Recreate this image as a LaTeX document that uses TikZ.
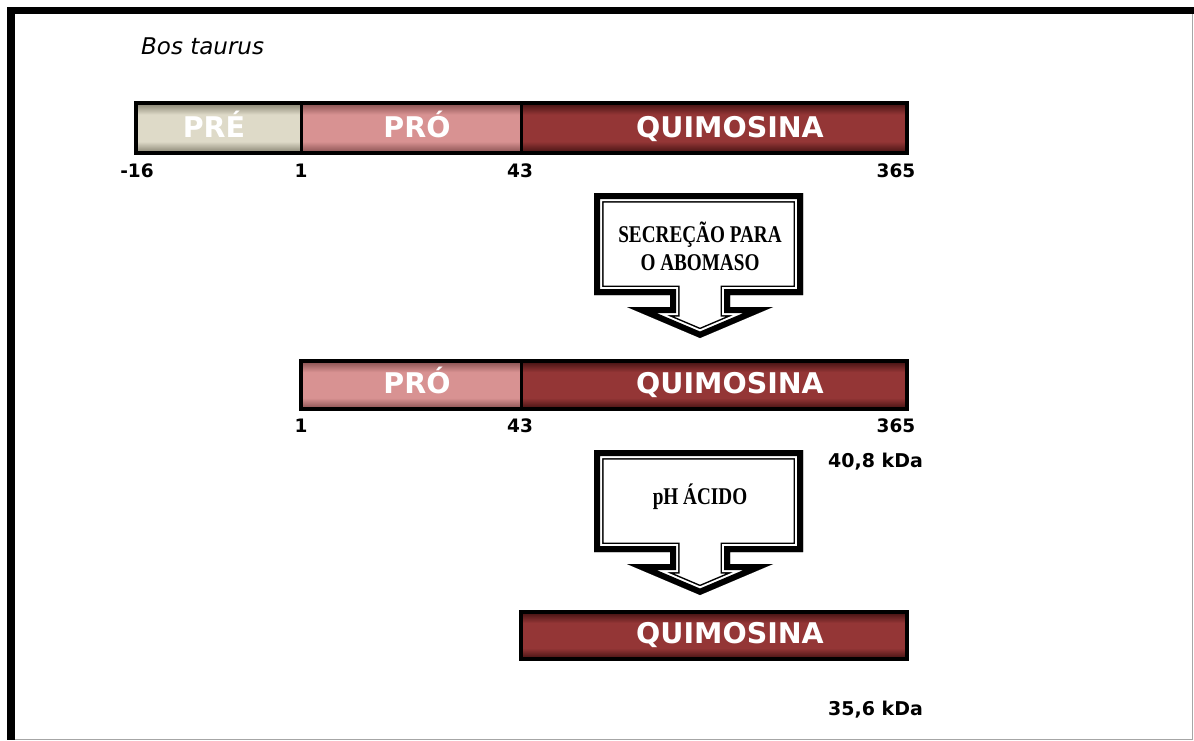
\documentclass[tikz,border=0pt]{standalone}
\usepackage{fontspec}
\newfontfamily\verd{DejaVu Sans}
\newfontfamily\tms{Liberation Serif}
\definecolor{preM}{RGB}{222,218,200}
\definecolor{preE}{RGB}{140,136,118}
\definecolor{proM}{RGB}{216,146,146}
\definecolor{proE}{RGB}{140,84,84}
\definecolor{quiM}{RGB}{148,54,54}
\definecolor{quiE}{RGB}{72,20,20}
\pgfdeclareverticalshading{preshade}{100bp}{color(0bp)=(preE); color(25bp)=(preE); color(36bp)=(preM); color(64bp)=(preM); color(75bp)=(preE); color(100bp)=(preE)}
\pgfdeclareverticalshading{proshade}{100bp}{color(0bp)=(proE); color(25bp)=(proE); color(36bp)=(proM); color(64bp)=(proM); color(75bp)=(proE); color(100bp)=(proE)}
\pgfdeclareverticalshading{quishade}{100bp}{color(0bp)=(quiE); color(25bp)=(quiE); color(36bp)=(quiM); color(64bp)=(quiM); color(75bp)=(quiE); color(100bp)=(quiE)}
\newcommand{\arrowshape}{(594,193) -- (803,193) -- (803,295) -- (730,295) -- (730,307) -- (773,307) -- (700,338) -- (627,307) -- (670,307) -- (670,295) -- (594,295) -- cycle}
\newcommand{\blockarrow}[1]{%
  \begin{scope}[shift={(0,#1-193)}]
    \fill[white] \arrowshape;
    \begin{scope}
      \clip \arrowshape;
      \draw[black, line width=19pt, line join=miter] \arrowshape;
      \draw[white, line width=16pt, line join=miter] \arrowshape;
      \draw[black, line width=12pt, line join=miter] \arrowshape;
    \end{scope}
  \end{scope}}
\tikzset{
  seg/.style={draw=black, line width=2.5pt, inner sep=0pt, anchor=west},
  pre/.style={seg, shading=preshade},
  pro/.style={seg, shading=proshade},
  qui/.style={seg, shading=quishade},
  bartext/.style={text=white, font=\verd\bfseries\fontsize{28.5}{32}\selectfont, inner sep=0pt, anchor=base},
  num/.style={font=\verd\bfseries\fontsize{18.5}{22}\selectfont, inner sep=0pt, anchor=base},
  kda/.style={font=\verd\bfseries\fontsize{19}{22}\selectfont, inner sep=0pt, anchor=base west},
  steptext/.style={font=\tms\bfseries\fontsize{24}{28}\selectfont, align=center, inner sep=0pt, xscale=0.8}
}
\begin{document}
\begin{tikzpicture}[x=1pt, y=-1pt]
\useasboundingbox (0,0) rectangle (1194,740);
% frame
\fill[black] (7,7) rectangle (1194,14);
\fill[black] (7,7) rectangle (15,740);
\draw[gray!70, line width=1pt] (1192.5,14) -- (1192.5,740);
\draw[gray!70, line width=1pt] (15,739.5) -- (1192.5,739.5);

\node[font=\verd\itshape\fontsize{23}{26}\selectfont, anchor=base west, inner sep=0pt] (species) at (141,54) {Bos taurus};

% row 1
\fill[gray!40] (137,106) rectangle (907,154);
\node[pre, minimum width=165pt, minimum height=48pt] (pre1) at (135,128) {};
\node[pro, minimum width=220pt, minimum height=48pt] (pro1) at (300,128) {};
\node[qui, minimum width=385pt, minimum height=48pt] (qui1) at (520,128) {};
\draw[black, line width=3pt] (pre1.north west) rectangle (qui1.south east);
\node[bartext] (tpre1) at (214,137.5) {PRÉ};
\node[bartext] (tpro1) at (417,137.5) {PRÓ};
\node[bartext] (tqui1) at (730,137.5) {QUIMOSINA};
\node[num] (n1a) at (137,177) {-16};
\node[num] (n1b) at (301,177) {1};
\node[num] (n1c) at (520,177) {43};
\node[num] (n1d) at (896,177) {365};

% arrow 1
\blockarrow{193}
\node[steptext] (step1) at (700,246) {SECREÇÃO PARA\\O ABOMASO};

% row 2
\fill[gray!40] (302,364) rectangle (907,410);
\node[pro, minimum width=220pt, minimum height=46pt] (pro2) at (300,385) {};
\node[qui, minimum width=385pt, minimum height=46pt] (qui2) at (520,385) {};
\draw[black, line width=3pt] (pro2.north west) rectangle (qui2.south east);
\node[bartext] (tpro2) at (417,393.5) {PRÓ};
\node[bartext] (tqui2) at (730,393.5) {QUIMOSINA};
\node[num] (n2b) at (301,432) {1};
\node[num] (n2c) at (520,432) {43};
\node[num] (n2d) at (896,432) {365};
\node[kda] (kda1) at (828,467) {40,8 kDa};

% arrow 2
\blockarrow{450}
\node[steptext] (step2) at (700,497) {pH ÁCIDO};

% row 3
\fill[gray!40] (522,615) rectangle (907,660);
\node[qui, minimum width=385pt, minimum height=45pt] (qui3) at (520,635.5) {};
\draw[black, line width=3pt] (qui3.north west) rectangle (qui3.south east);
\node[bartext] (tqui3) at (730,643.5) {QUIMOSINA};
\node[kda] (kda2) at (828,715) {35,6 kDa};
\end{tikzpicture}
\end{document}
